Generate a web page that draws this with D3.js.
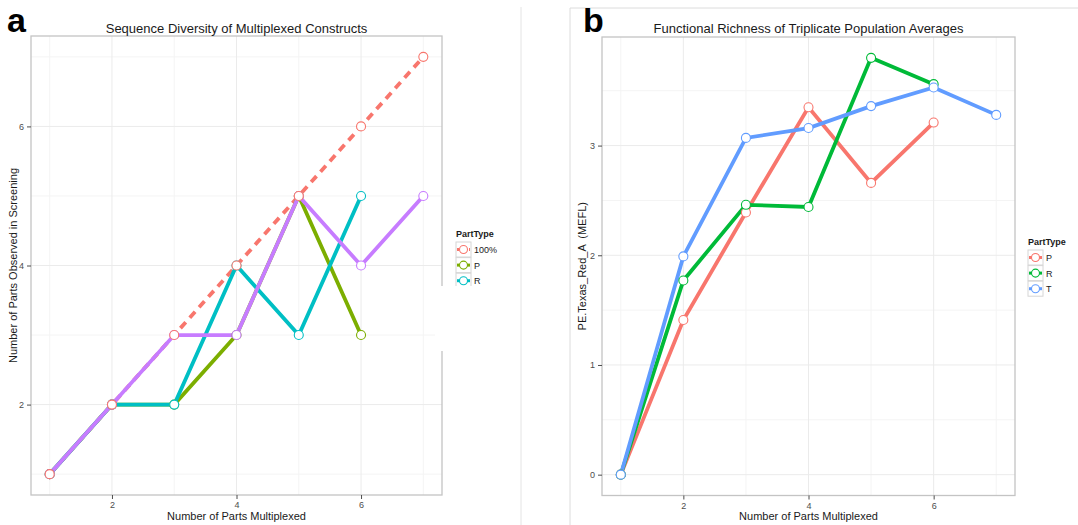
<!DOCTYPE html>
<html>
<head>
<meta charset="utf-8">
<script src="https://cdn.jsdelivr.net/npm/d3@7"></script>
<style>
    body { margin: 0; background: #fff; }
    text { font-family: "Liberation Sans", Arial, sans-serif; }
    .tick text { fill: #4d4d4d; font-size: 9px; }
    .tick line { stroke: #4d4d4d; }
</style>
</head>
<body>
<script>
//values
var xA = [1, 2, 3, 4, 5, 6, 7];
var fullA = [1, 2, 3, 4, 5, 6, 7]; //100% line
var pA = [1, 2, 2, 3, 5, 3];
var rA = [1, 2, 2, 4, 3, 5];
var tA = [1, 2, 3, 3, 5, 4, 5];

var xB = [1, 2, 3, 4, 5, 6, 7];
var pB = [0, 1.41, 2.39, 3.35, 2.66, 3.21];
var rB = [0, 1.77, 2.46, 2.44, 3.80, 3.56];
var tB = [0, 1.99, 3.07, 3.16, 3.36, 3.53, 3.28];

var xTicks = [2, 4, 6];
var yTicksA = [2, 4, 6];
var yTicksB = [0, 1, 2, 3];

window.onload = function() {

    var svg = d3.select("body")
        .append("svg")
        .attr("width", 1078)
        .attr("height", 525);

    //faint frame lines between the two panels
    svg.append("line")
        .attr("x1", 521).attr("x2", 521)
        .attr("y1", 7).attr("y2", 525)
        .style("stroke", "#e4e4e4");
    svg.append("path")
        .attr("d", "M570,525V8H1078")
        .style("fill", "none")
        .style("stroke", "#dcdcdc");

    //turn a list of y values into points
    function pts(xs, ys) {
        return ys.map(function(v, i) { return { x: xs[i], y: v }; });
    }

    //pad the extent 5% on each side like ggplot does
    function padded(vals) {
        var e = d3.extent(vals);
        var p = (e[1] - e[0]) * 0.05;
        return [e[0] - p, e[1] + p];
    }

    function drawPanel(cfg) {
        var x = d3.scaleLinear()
            .domain(padded(cfg.xs))
            .range([cfg.left, cfg.right]);
        var y = d3.scaleLinear()
            .domain(padded(cfg.allY))
            .range([cfg.bottom, cfg.top]);

        var g = svg.append("g");

        //minor grid
        g.selectAll(".minorX")
            .data(cfg.minorX)
            .enter()
            .append("line")
            .attr("x1", function(d) { return x(d); })
            .attr("x2", function(d) { return x(d); })
            .attr("y1", cfg.top).attr("y2", cfg.bottom)
            .style("stroke", "#f4f4f4");
        g.selectAll(".minorY")
            .data(cfg.minorY)
            .enter()
            .append("line")
            .attr("y1", function(d) { return y(d); })
            .attr("y2", function(d) { return y(d); })
            .attr("x1", cfg.left).attr("x2", cfg.right)
            .style("stroke", "#f4f4f4");

        //major grid
        g.selectAll(".majorX")
            .data(xTicks)
            .enter()
            .append("line")
            .attr("x1", function(d) { return x(d); })
            .attr("x2", function(d) { return x(d); })
            .attr("y1", cfg.top).attr("y2", cfg.bottom)
            .style("stroke", "#ebebeb");
        g.selectAll(".majorY")
            .data(cfg.yTicks)
            .enter()
            .append("line")
            .attr("y1", function(d) { return y(d); })
            .attr("y2", function(d) { return y(d); })
            .attr("x1", cfg.left).attr("x2", cfg.right)
            .style("stroke", "#ebebeb");

        //lines
        var line = d3.line()
            .x(function(d) { return x(d.x); })
            .y(function(d) { return y(d.y); });

        g.selectAll(".series")
            .data(cfg.series)
            .enter()
            .append("path")
            .attr("d", function(d) { return line(d.pts); })
            .style("fill", "none")
            .style("stroke", function(d) { return d.color; })
            .style("stroke-width", 3.8)
            .style("stroke-dasharray", function(d) { return d.dash ? "8,6" : null; });

        //points, in the order ggplot painted them
        cfg.pointOrder.forEach(function(s) {
            g.selectAll(null)
                .data(s.pts)
                .enter()
                .append("circle")
                .attr("cx", function(d) { return x(d.x); })
                .attr("cy", function(d) { return y(d.y); })
                .attr("r", 4.5)
                .style("fill", "#fff")
                .style("stroke", s.color)
                .style("stroke-width", 1.1);
        });

        //panel border
        g.append("rect")
            .attr("x", cfg.left)
            .attr("y", cfg.top)
            .attr("width", cfg.right - cfg.left)
            .attr("height", cfg.bottom - cfg.top)
            .style("fill", "none")
            .style("stroke", "#c4c4c4")
            .style("stroke-width", 1.3);

        //axes
        var xAxis = g.append("g")
            .attr("transform", "translate(0," + cfg.bottom + ")")
            .call(d3.axisBottom(x).tickValues(xTicks).tickFormat(d3.format("d")).tickSize(4).tickPadding(3));
        var yAxis = g.append("g")
            .attr("transform", "translate(" + cfg.left + ",0)")
            .call(d3.axisLeft(y).tickValues(cfg.yTicks).tickFormat(d3.format("d")).tickSize(4).tickPadding(3));
        xAxis.select(".domain").remove();
        yAxis.select(".domain").remove();

        //title and axis titles
        g.append("text")
            .attr("x", (cfg.left + cfg.right) / 2)
            .attr("y", 33)
            .attr("text-anchor", "middle")
            .style("font-size", "13px")
            .style("fill", "#1a1a1a")
            .text(cfg.title);
        g.append("text")
            .attr("x", (cfg.left + cfg.right) / 2)
            .attr("y", 520)
            .attr("text-anchor", "middle")
            .style("font-size", "11px")
            .style("fill", "#1a1a1a")
            .text("Number of Parts Multiplexed");
        g.append("text")
            .attr("transform", "translate(" + cfg.yLabelX + "," + (cfg.top + cfg.bottom) / 2 + ") rotate(-90)")
            .attr("text-anchor", "middle")
            .style("font-size", "11px")
            .style("fill", "#1a1a1a")
            .style("white-space", "pre")
            .text(cfg.yLabel);

        //panel letter
        g.append("text")
            .attr("x", cfg.letterX)
            .attr("y", 32)
            .style("font-size", "34px")
            .style("font-weight", "bold")
            .style("fill", "#000")
            .text(cfg.letter);

        //legend
        var lg = g.append("g")
            .attr("transform", "translate(" + cfg.legendX + "," + cfg.legendY + ")");
        lg.append("text")
            .attr("x", 0)
            .attr("y", 0)
            .style("font-size", "9px")
            .style("font-weight", "bold")
            .style("fill", "#1a1a1a")
            .text("PartType");
        var key = lg.selectAll(".key")
            .data(cfg.legend)
            .enter()
            .append("g")
            .attr("transform", function(d, i) { return "translate(0," + (5 + i * 15.6) + ")"; });
        key.append("rect")
            .attr("width", 15)
            .attr("height", 15)
            .style("fill", "#fff")
            .style("stroke", "#d6d6d6");
        key.append("line")
            .attr("x1", 1).attr("x2", 14)
            .attr("y1", 7.5).attr("y2", 7.5)
            .style("stroke", function(d) { return d.color; })
            .style("stroke-width", 3)
            .style("stroke-dasharray", function(d) { return d.dash ? "2,2" : null; });
        key.append("circle")
            .attr("cx", 7.5)
            .attr("cy", 7.5)
            .attr("r", 4)
            .style("fill", "#fff")
            .style("stroke", function(d) { return d.color; })
            .style("stroke-width", 1.1);
        key.append("text")
            .attr("x", 18)
            .attr("y", 11)
            .style("font-size", "9px")
            .style("fill", "#1a1a1a")
            .text(function(d) { return d.name; });
    }

    //panel a
    var sFull = { name: "100%", color: "#F8766D", dash: true, pts: pts(xA, fullA) };
    var sPA = { name: "P", color: "#7CAE00", pts: pts(xA, pA) };
    var sRA = { name: "R", color: "#00BFC4", pts: pts(xA, rA) };
    var sTA = { name: "T", color: "#C77CFF", pts: pts(xA, tA) };

    drawPanel({
        left: 31, right: 442, top: 36, bottom: 495,
        xs: xA,
        allY: fullA.concat(pA, rA, tA),
        minorX: [1, 3, 5, 7],
        minorY: [1, 3, 5, 7],
        yTicks: yTicksA,
        series: [sFull, sPA, sRA, sTA],
        pointOrder: [sPA, sRA, sTA, sFull],
        title: "Sequence Diversity of Multiplexed Constructs",
        yLabel: "Number of Parts Observed in Screening",
        yLabelX: 17,
        letter: "a",
        letterX: 7,
        legendX: 456,
        legendY: 237,
        legend: [sFull, sPA, sRA]
    });

    //white patch that hides part of the border in the original figure
    svg.append("rect")
        .attr("x", 435)
        .attr("y", 286)
        .attr("width", 50)
        .attr("height", 65)
        .style("fill", "#fff");

    //panel b
    var sPB = { name: "P", color: "#F8766D", pts: pts(xB, pB) };
    var sRB = { name: "R", color: "#00BA38", pts: pts(xB, rB) };
    var sTB = { name: "T", color: "#619CFF", pts: pts(xB, tB) };

    drawPanel({
        left: 602, right: 1015, top: 37, bottom: 495.5,
        xs: xB,
        allY: pB.concat(rB, tB),
        minorX: [1, 3, 5, 7],
        minorY: [0.5, 1.5, 2.5, 3.5],
        yTicks: yTicksB,
        series: [sPB, sRB, sTB],
        pointOrder: [sPB, sRB, sTB],
        title: "Functional Richness of Triplicate Population Averages",
        yLabel: "PE.Texas_Red_A  (MEFL)",
        yLabelX: 586,
        letter: "b",
        letterX: 583,
        legendX: 1028,
        legendY: 245,
        legend: [sPB, sRB, sTB]
    });
};
</script>
</body>
</html>
